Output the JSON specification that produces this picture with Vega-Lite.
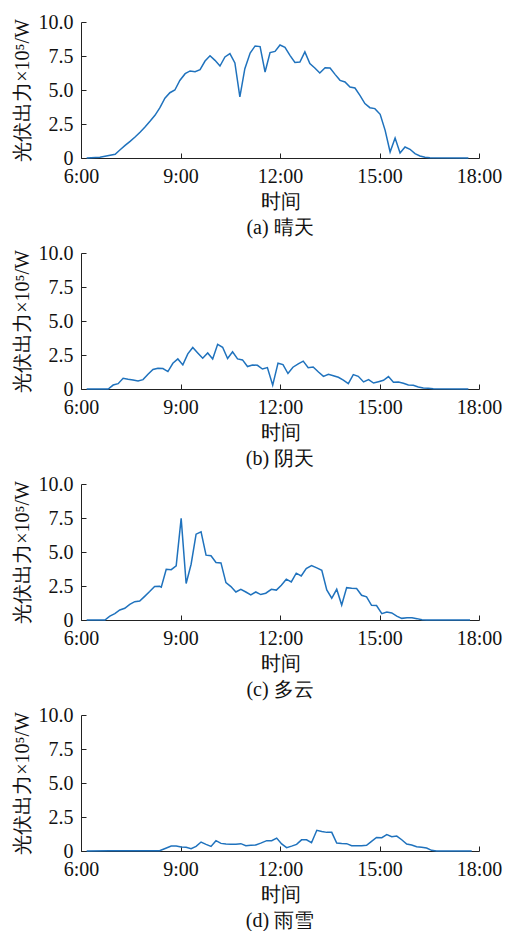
{
  "$schema": "https://vega.github.io/schema/vega-lite/v6.json",
  "padding": {"left": 12, "top": 12, "right": 4, "bottom": 2},
  "spacing": 5,
  "datasets": {
    "a": [{"t":6.17,"p":0},{"t":6.57,"p":0.05},{"t":7.03,"p":0.27},{"t":7.18,"p":0.61},{"t":7.33,"p":0.93},{"t":7.48,"p":1.22},{"t":7.63,"p":1.54},{"t":7.78,"p":1.9},{"t":7.93,"p":2.28},{"t":8.08,"p":2.7},{"t":8.23,"p":3.14},{"t":8.38,"p":3.7},{"t":8.53,"p":4.4},{"t":8.68,"p":4.8},{"t":8.83,"p":5.0},{"t":8.98,"p":5.7},{"t":9.14,"p":6.2},{"t":9.29,"p":6.4},{"t":9.44,"p":6.35},{"t":9.59,"p":6.5},{"t":9.74,"p":7.13},{"t":9.89,"p":7.52},{"t":10.04,"p":7.18},{"t":10.19,"p":6.76},{"t":10.34,"p":7.43},{"t":10.49,"p":7.67},{"t":10.64,"p":6.99},{"t":10.79,"p":4.49},{"t":10.94,"p":6.57},{"t":11.1,"p":7.72},{"t":11.25,"p":8.24},{"t":11.4,"p":8.19},{"t":11.55,"p":6.32},{"t":11.7,"p":7.75},{"t":11.85,"p":7.84},{"t":12.0,"p":8.31},{"t":12.15,"p":8.14},{"t":12.3,"p":7.55},{"t":12.45,"p":7.03},{"t":12.6,"p":7.06},{"t":12.75,"p":7.8},{"t":12.9,"p":6.94},{"t":13.05,"p":6.62},{"t":13.2,"p":6.25},{"t":13.36,"p":6.64},{"t":13.51,"p":6.62},{"t":13.66,"p":6.15},{"t":13.81,"p":5.71},{"t":13.96,"p":5.59},{"t":14.11,"p":5.22},{"t":14.26,"p":5.15},{"t":14.41,"p":4.61},{"t":14.56,"p":4.0},{"t":14.71,"p":3.7},{"t":14.86,"p":3.63},{"t":15.02,"p":3.21},{"t":15.17,"p":2.03},{"t":15.32,"p":0.44},{"t":15.47,"p":1.47},{"t":15.62,"p":0.37},{"t":15.77,"p":0.81},{"t":15.92,"p":0.64},{"t":16.07,"p":0.32},{"t":16.22,"p":0.15},{"t":16.37,"p":0.05},{"t":16.52,"p":0.01},{"t":17.68,"p":0}],
    "b": [{"t":6.17,"p":0},{"t":6.82,"p":0},{"t":6.97,"p":0.29},{"t":7.12,"p":0.39},{"t":7.27,"p":0.79},{"t":7.42,"p":0.71},{"t":7.57,"p":0.66},{"t":7.72,"p":0.59},{"t":7.87,"p":0.69},{"t":8.02,"p":1.08},{"t":8.17,"p":1.43},{"t":8.32,"p":1.52},{"t":8.47,"p":1.5},{"t":8.62,"p":1.28},{"t":8.77,"p":1.89},{"t":8.92,"p":2.21},{"t":9.07,"p":1.77},{"t":9.22,"p":2.58},{"t":9.37,"p":3.05},{"t":9.52,"p":2.65},{"t":9.67,"p":2.26},{"t":9.82,"p":2.65},{"t":9.97,"p":2.21},{"t":10.12,"p":3.29},{"t":10.27,"p":3.07},{"t":10.42,"p":2.24},{"t":10.57,"p":2.73},{"t":10.72,"p":2.21},{"t":10.87,"p":2.14},{"t":11.02,"p":1.65},{"t":11.17,"p":1.77},{"t":11.32,"p":1.74},{"t":11.47,"p":1.47},{"t":11.62,"p":1.57},{"t":11.78,"p":0.28},{"t":11.94,"p":1.9},{"t":12.09,"p":1.8},{"t":12.24,"p":1.14},{"t":12.39,"p":1.6},{"t":12.55,"p":1.85},{"t":12.7,"p":2.05},{"t":12.85,"p":1.57},{"t":13.0,"p":1.62},{"t":13.16,"p":1.25},{"t":13.31,"p":0.93},{"t":13.46,"p":1.08},{"t":13.61,"p":0.98},{"t":13.76,"p":0.86},{"t":13.91,"p":0.66},{"t":14.06,"p":0.39},{"t":14.21,"p":1.06},{"t":14.36,"p":0.93},{"t":14.52,"p":0.52},{"t":14.67,"p":0.69},{"t":14.82,"p":0.44},{"t":14.97,"p":0.54},{"t":15.12,"p":0.64},{"t":15.27,"p":0.91},{"t":15.42,"p":0.49},{"t":15.57,"p":0.52},{"t":15.72,"p":0.42},{"t":15.87,"p":0.29},{"t":16.02,"p":0.27},{"t":16.17,"p":0.15},{"t":16.32,"p":0.07},{"t":16.47,"p":0.05},{"t":16.62,"p":0.02},{"t":17.68,"p":0}],
    "c": [{"t":6.17,"p":0},{"t":6.72,"p":0},{"t":6.87,"p":0.29},{"t":7.02,"p":0.47},{"t":7.17,"p":0.74},{"t":7.32,"p":0.86},{"t":7.47,"p":1.15},{"t":7.62,"p":1.35},{"t":7.77,"p":1.4},{"t":7.92,"p":1.74},{"t":8.07,"p":2.09},{"t":8.22,"p":2.46},{"t":8.37,"p":2.48},{"t":8.42,"p":2.42},{"t":8.57,"p":3.73},{"t":8.72,"p":3.7},{"t":8.87,"p":3.98},{"t":9.02,"p":7.47},{"t":9.17,"p":2.68},{"t":9.32,"p":4.1},{"t":9.47,"p":6.31},{"t":9.62,"p":6.49},{"t":9.77,"p":4.77},{"t":9.92,"p":4.72},{"t":10.07,"p":4.23},{"t":10.22,"p":4.2},{"t":10.37,"p":2.75},{"t":10.52,"p":2.46},{"t":10.67,"p":2.06},{"t":10.82,"p":2.26},{"t":10.97,"p":2.06},{"t":11.12,"p":1.84},{"t":11.27,"p":2.06},{"t":11.42,"p":1.87},{"t":11.57,"p":1.97},{"t":11.74,"p":2.26},{"t":11.89,"p":2.2},{"t":12.04,"p":2.56},{"t":12.19,"p":3.0},{"t":12.34,"p":2.8},{"t":12.49,"p":3.44},{"t":12.64,"p":3.24},{"t":12.79,"p":3.78},{"t":12.95,"p":4.0},{"t":13.11,"p":3.83},{"t":13.26,"p":3.66},{"t":13.41,"p":2.21},{"t":13.56,"p":1.6},{"t":13.71,"p":2.26},{"t":13.86,"p":1.1},{"t":14.01,"p":2.38},{"t":14.16,"p":2.33},{"t":14.31,"p":2.31},{"t":14.46,"p":1.82},{"t":14.61,"p":1.7},{"t":14.76,"p":1.08},{"t":14.91,"p":1.06},{"t":15.07,"p":0.47},{"t":15.22,"p":0.59},{"t":15.37,"p":0.52},{"t":15.52,"p":0.29},{"t":15.67,"p":0.12},{"t":15.83,"p":0.17},{"t":15.98,"p":0.17},{"t":16.13,"p":0.1},{"t":16.28,"p":0.02},{"t":16.42,"p":0},{"t":17.73,"p":0}],
    "d": [{"t":6.17,"p":0},{"t":6.87,"p":0.02},{"t":7.87,"p":0.02},{"t":8.37,"p":0.02},{"t":8.52,"p":0.17},{"t":8.72,"p":0.37},{"t":8.87,"p":0.37},{"t":9.02,"p":0.29},{"t":9.17,"p":0.27},{"t":9.32,"p":0.17},{"t":9.47,"p":0.34},{"t":9.62,"p":0.66},{"t":9.77,"p":0.49},{"t":9.92,"p":0.34},{"t":10.07,"p":0.76},{"t":10.22,"p":0.56},{"t":10.37,"p":0.51},{"t":10.52,"p":0.49},{"t":10.67,"p":0.49},{"t":10.82,"p":0.54},{"t":10.97,"p":0.39},{"t":11.12,"p":0.42},{"t":11.27,"p":0.44},{"t":11.42,"p":0.58},{"t":11.6,"p":0.76},{"t":11.75,"p":0.76},{"t":11.9,"p":0.95},{"t":12.05,"p":0.52},{"t":12.2,"p":0.25},{"t":12.35,"p":0.36},{"t":12.5,"p":0.49},{"t":12.65,"p":0.82},{"t":12.8,"p":0.82},{"t":12.95,"p":0.61},{"t":13.11,"p":1.52},{"t":13.26,"p":1.44},{"t":13.41,"p":1.37},{"t":13.56,"p":1.37},{"t":13.71,"p":0.59},{"t":13.86,"p":0.56},{"t":14.01,"p":0.54},{"t":14.16,"p":0.39},{"t":14.31,"p":0.39},{"t":14.46,"p":0.39},{"t":14.61,"p":0.42},{"t":14.76,"p":0.71},{"t":14.91,"p":1.0},{"t":15.07,"p":0.98},{"t":15.22,"p":1.2},{"t":15.37,"p":1.05},{"t":15.52,"p":1.1},{"t":15.67,"p":0.83},{"t":15.82,"p":0.51},{"t":15.97,"p":0.44},{"t":16.12,"p":0.32},{"t":16.27,"p":0.27},{"t":16.42,"p":0.22},{"t":16.57,"p":0.05},{"t":16.72,"p":0},{"t":17.78,"p":0}]
  },
  "vconcat": [
    {"data": {"name": "a"}, "width": 398, "height": 136, "title": {"text": "(a) 晴天"},
     "mark": {"type": "line", "color": "#1f72bd", "strokeWidth": 1.5},
     "encoding": {
       "x": {"field": "t", "type": "quantitative", "scale": {"domain": [6, 18], "nice": false}, "axis": {"values": [6, 9, 12, 15, 18], "labelExpr": "datum.value + ':00'", "title": "时间"}},
       "y": {"field": "p", "type": "quantitative", "scale": {"domain": [0, 10], "nice": false}, "axis": {"values": [0, 2.5, 5, 7.5, 10], "labelExpr": "datum.value == 0 ? '0' : format(datum.value, '.1f')", "title": "光伏出力×10⁵/W"}}
     }},
    {"data": {"name": "b"}, "width": 398, "height": 136, "title": {"text": "(b) 阴天"},
     "mark": {"type": "line", "color": "#1f72bd", "strokeWidth": 1.5},
     "encoding": {
       "x": {"field": "t", "type": "quantitative", "scale": {"domain": [6, 18], "nice": false}, "axis": {"values": [6, 9, 12, 15, 18], "labelExpr": "datum.value + ':00'", "title": "时间"}},
       "y": {"field": "p", "type": "quantitative", "scale": {"domain": [0, 10], "nice": false}, "axis": {"values": [0, 2.5, 5, 7.5, 10], "labelExpr": "datum.value == 0 ? '0' : format(datum.value, '.1f')", "title": "光伏出力×10⁵/W"}}
     }},
    {"data": {"name": "c"}, "width": 398, "height": 136, "title": {"text": "(c) 多云"},
     "mark": {"type": "line", "color": "#1f72bd", "strokeWidth": 1.5},
     "encoding": {
       "x": {"field": "t", "type": "quantitative", "scale": {"domain": [6, 18], "nice": false}, "axis": {"values": [6, 9, 12, 15, 18], "labelExpr": "datum.value + ':00'", "title": "时间"}},
       "y": {"field": "p", "type": "quantitative", "scale": {"domain": [0, 10], "nice": false}, "axis": {"values": [0, 2.5, 5, 7.5, 10], "labelExpr": "datum.value == 0 ? '0' : format(datum.value, '.1f')", "title": "光伏出力×10⁵/W"}}
     }},
    {"data": {"name": "d"}, "width": 398, "height": 136, "title": {"text": "(d) 雨雪"},
     "mark": {"type": "line", "color": "#1f72bd", "strokeWidth": 1.5},
     "encoding": {
       "x": {"field": "t", "type": "quantitative", "scale": {"domain": [6, 18], "nice": false}, "axis": {"values": [6, 9, 12, 15, 18], "labelExpr": "datum.value + ':00'", "title": "时间"}},
       "y": {"field": "p", "type": "quantitative", "scale": {"domain": [0, 10], "nice": false}, "axis": {"values": [0, 2.5, 5, 7.5, 10], "labelExpr": "datum.value == 0 ? '0' : format(datum.value, '.1f')", "title": "光伏出力×10⁵/W"}}
     }}
  ],
  "config": {
    "view": {"stroke": null},
    "font": "Liberation Serif",
    "axis": {"grid": false, "domainColor": "#222", "tickColor": "#222", "labelColor": "#111", "titleColor": "#111",
             "labelFont": "Liberation Serif", "titleFont": "Liberation Serif",
             "labelFontSize": 20, "titleFontSize": 20, "titleFontWeight": "normal", "tickSize": -5, "labelPadding": 13,
             "domainWidth": 1, "tickWidth": 1, "labelFlush": false, "labelOverlap": false},
    "axisX": {"titlePadding": 5},
    "axisY": {"titlePadding": 6},
    "title": {"orient": "bottom", "font": "Liberation Serif", "fontSize": 20, "fontWeight": "normal", "color": "#111", "offset": 7}
  }
}
